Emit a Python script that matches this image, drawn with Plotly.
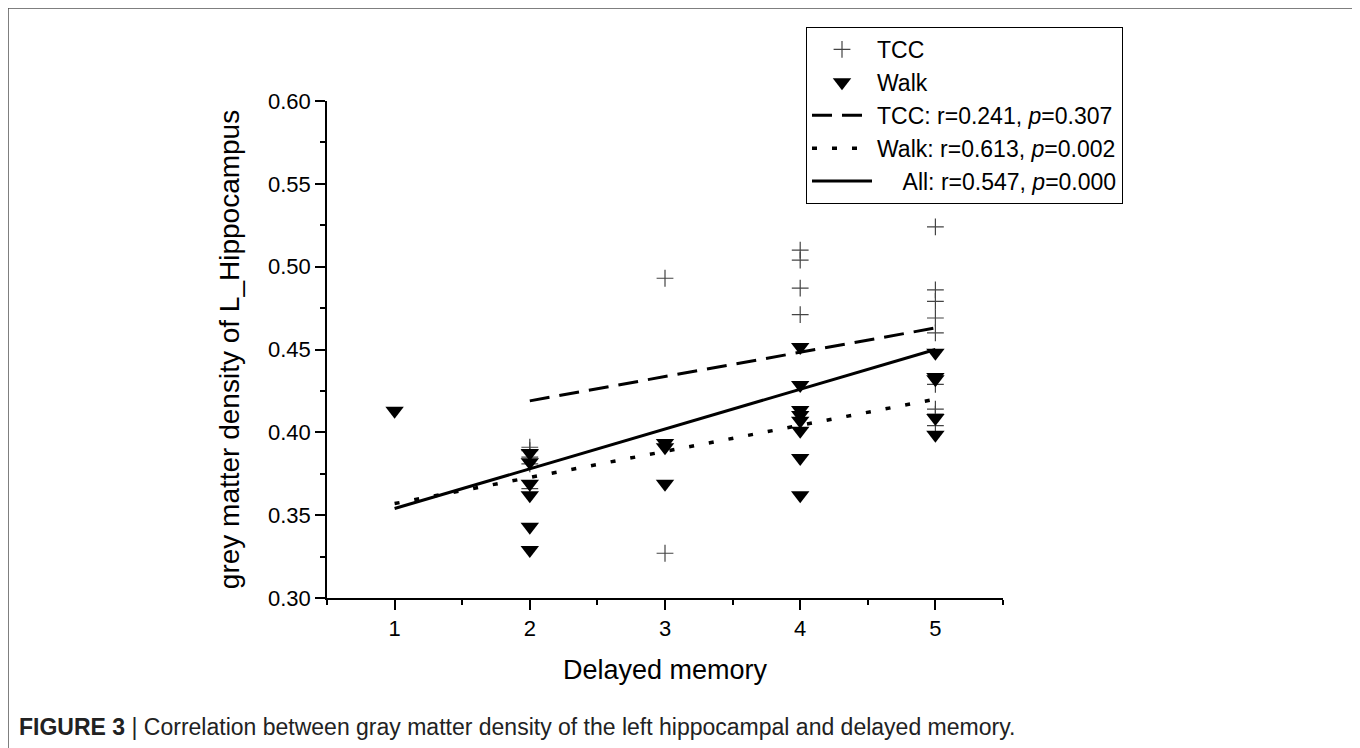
import plotly.graph_objects as go

# ---- data ----
tcc_x = [2, 2, 2, 2, 2, 3, 3, 4, 4, 4, 4, 5, 5, 5, 5, 5, 5, 5, 5, 5]
tcc_y = [0.391, 0.389, 0.385, 0.381, 0.366, 0.493, 0.327, 0.510, 0.504, 0.487, 0.471,
         0.524, 0.486, 0.479, 0.469, 0.460, 0.429, 0.414, 0.411, 0.404]

walk_x = [1, 2, 2, 2, 2, 2, 2, 3, 3, 3, 4, 4, 4, 4, 4, 4, 4, 4, 5, 5, 5, 5, 5]
walk_y = [0.413, 0.3875, 0.382, 0.369, 0.362, 0.343, 0.329, 0.3935, 0.391, 0.369,
          0.4515, 0.4286, 0.4135, 0.4105, 0.407, 0.401, 0.3845, 0.362,
          0.448, 0.4334, 0.4320, 0.4087, 0.3985]

tcc_fit_x = [2, 5]
tcc_fit_y = [0.419, 0.463]
walk_fit_x = [1, 5]
walk_fit_y = [0.357, 0.420]
all_fit_x = [1, 5]
all_fit_y = [0.354, 0.450]

legend_names = ["TCC", "Walk",
                "TCC: r=0.241, <i>p</i>=0.307",
                "Walk: r=0.613, <i>p</i>=0.002",
                "&nbsp;&nbsp;&nbsp;&nbsp;All: r=0.547, <i>p</i>=0.000"]

y_ticks = [0.30, 0.35, 0.40, 0.45, 0.50, 0.55, 0.60]
x_ticks = [1, 2, 3, 4, 5]

caption = ("<b>FIGURE 3</b> | Correlation between gray matter density of the left "
           "hippocampal and delayed memory.")

FONT = "Liberation Sans, Arial, sans-serif"

fig = go.Figure()
fig.add_trace(go.Scatter(x=tcc_x, y=tcc_y, mode="markers", name=legend_names[0],
                         marker=dict(symbol="cross-thin", size=12, color="#444",
                                     line=dict(color="#444", width=1.2))))
fig.add_trace(go.Scatter(x=walk_x, y=walk_y, mode="markers", name=legend_names[1],
                         marker=dict(symbol="triangle-down", size=16, color="black",
                                     line=dict(width=0))))
fig.add_trace(go.Scatter(x=tcc_fit_x, y=tcc_fit_y, mode="lines", name=legend_names[2],
                         line=dict(color="black", width=3, dash="20px,10px")))
fig.add_trace(go.Scatter(x=walk_fit_x, y=walk_fit_y, mode="lines", name=legend_names[3],
                         line=dict(color="black", width=3.5, dash="5px,15px")))
fig.add_trace(go.Scatter(x=all_fit_x, y=all_fit_y, mode="lines", name=legend_names[4],
                         line=dict(color="black", width=3)))

# page body has an 8px margin; figure is placed at (8, 8) on screen
OFF = 8
W, H = 1352, 740
L, T = 327 - OFF, 101 - OFF
pw, ph = 676, 497
R = W - L - pw
B = H - T - ph

def px_to_paper_x(px):
    return (px - OFF - L) / pw

def px_to_paper_y(py):
    return (T + ph - (py - OFF)) / ph

fig.update_layout(
    width=W, height=H,
    margin=dict(l=L, r=R, t=T, b=B, pad=0),
    paper_bgcolor="white", plot_bgcolor="white",
    font=dict(family=FONT, color="black"),
    showlegend=True,
    legend=dict(x=px_to_paper_x(806), y=px_to_paper_y(27), xanchor="left", yanchor="top",
                bgcolor="white", bordercolor="black", borderwidth=1,
                font=dict(size=23, family=FONT), tracegroupgap=0, itemwidth=60),
    xaxis=dict(range=[0.5, 5.5], tickvals=x_ticks, ticktext=[str(v) for v in x_ticks],
               showgrid=False, zeroline=False, showline=True, linecolor="black", linewidth=1.5,
               ticks="outside", ticklen=10, tickwidth=1.5, tickcolor="black",
               tickfont=dict(size=22),
               minor=dict(dtick=0.5, tick0=0.5, ticks="outside", ticklen=5, tickwidth=1.5,
                          tickcolor="black", showgrid=False),
               title=dict(text="Delayed memory", font=dict(size=27), standoff=20)),
    yaxis=dict(range=[0.30, 0.60], tickvals=y_ticks, ticktext=[f"{v:.2f}" for v in y_ticks],
               showgrid=False, zeroline=False, showline=True, linecolor="black", linewidth=1.5,
               ticks="outside", ticklen=10, tickwidth=1.5, tickcolor="black",
               tickfont=dict(size=22),
               minor=dict(dtick=0.025, tick0=0.3, ticks="outside", ticklen=5, tickwidth=1.5,
                          tickcolor="black", showgrid=False),
               title=dict(text="grey matter density of L_Hippocampus", font=dict(size=28),
                          standoff=20)),
)

# outer figure frame
fig.add_shape(type="rect", xref="paper", yref="paper",
              x0=px_to_paper_x(8), x1=px_to_paper_x(1353),
              y0=px_to_paper_y(770), y1=px_to_paper_y(8),
              line=dict(color="#555", width=1.5), fillcolor="rgba(0,0,0,0)", layer="below")

fig.add_annotation(text=caption, xref="paper", yref="paper",
                   x=px_to_paper_x(17), y=px_to_paper_y(727), xanchor="left", yanchor="middle",
                   showarrow=False, font=dict(size=23, family=FONT, color="#222"))

fig.write_html("out.html")
